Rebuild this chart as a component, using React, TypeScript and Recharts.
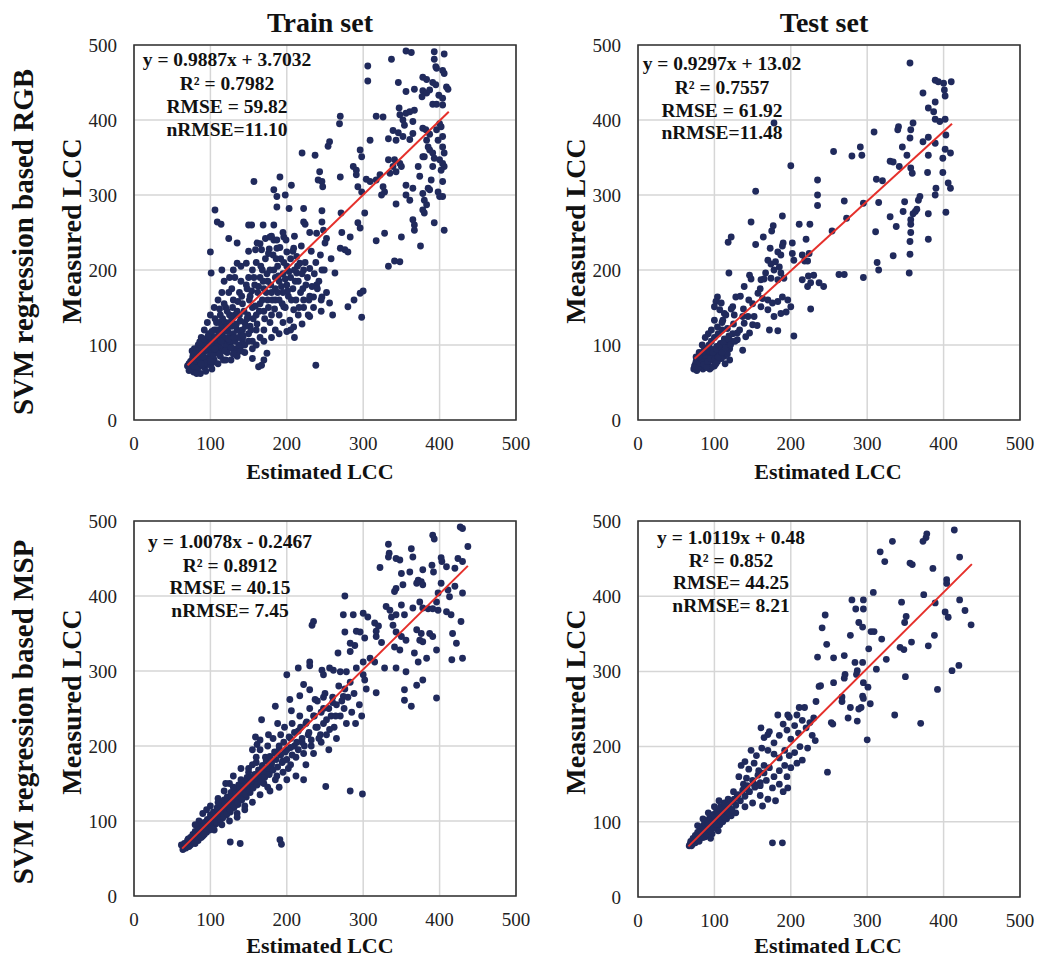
import React from 'react';
import { ScatterChart, Scatter, XAxis, YAxis, CartesianGrid, ReferenceArea } from 'recharts';

type P = [number, number];

const FONT = "'Liberation Serif', 'Times New Roman', serif";
const DOT = '#202a5c';
const FIT = '#e5302b';

const axisTicks = [0, 100, 200, 300, 400, 500];
const panelTitles = ['Train set', 'Test set'];
const rowLabels = ['SVM regression based RGB', 'SVM regression based MSP'];
const xAxisTitle = 'Estimated LCC';
const yAxisTitle = 'Measured LCC';

const statsTrainRgb = ['y = 0.9887x + 3.7032', 'R² = 0.7982', 'RMSE = 59.82', 'nRMSE=11.10'];
const statsTestRgb = ['y = 0.9297x + 13.02', 'R² = 0.7557', 'RMSE = 61.92', 'nRMSE=11.48'];
const statsTrainMsp = ['y = 1.0078x - 0.2467', 'R² = 0.8912', 'RMSE = 40.15', 'nRMSE= 7.45'];
const statsTestMsp = ['y = 1.0119x + 0.48', 'R² = 0.852', 'RMSE= 44.25', 'nRMSE= 8.21'];

const fitTrainRgb: P[] = [[70, 72.9], [412, 411]];
const fitTestRgb: P[] = [[74, 81.8], [411, 395.1]];
const fitTrainMsp: P[] = [[63, 63.2], [437, 440.2]];
const fitTestMsp: P[] = [[66, 67.3], [437, 442.7]];

const trainRgb: P[] = [
  [356,492],[363,490],[393,491],[406,488],[337,481],[306,472],[306,452],[393,481],[395,471],[396,469],[404,466],[406,462],[378,457],[383,454],[391,450],[395,447],[346,450],[356,438],[367,441],[378,439],[383,436],[387,440],[377,431],[399,433],[404,429],[409,444],[411,441],[391,421],[396,421],[404,420],[270,405],[269,395],[317,405],[326,404],[347,416],[348,407],[356,409],[361,411],[367,413],[365,398],[352,400],[354,393],[378,389],[382,387],[387,381],[396,387],[402,391],[404,378],[400,395],[339,386],[346,383],[352,378],[361,374],[333,375],[343,373],[365,382],[309,373],[296,360],[298,351],[256,371],[254,365],[220,356],[237,353],[383,373],[385,364],[387,360],[391,356],[398,373],[404,364],[406,356],[380,351],[378,351],[393,349],[400,347],[404,342],[406,338],[333,347],[341,347],[348,342],[350,338],[339,338],[343,331],[335,329],[372,338],[374,325],[391,338],[389,320],[402,333],[404,318],[287,338],[291,333],[291,327],[322,327],[317,320],[304,321],[309,318],[243,331],[246,318],[247,311],[241,320],[270,324],[157,318],[191,324],[206,313],[183,307],[187,298],[198,300],[293,311],[298,304],[326,311],[328,304],[324,300],[356,313],[365,309],[385,309],[387,307],[356,300],[361,293],[378,302],[380,293],[383,287],[380,276],[378,280],[398,304],[400,298],[404,298],[222,282],[203,282],[187,284],[246,279],[271,276],[302,276],[343,288],[106,280],[109,264],[114,261],[154,260],[150,260],[169,260],[183,260],[222,264],[224,261],[246,264],[248,253],[230,250],[239,249],[272,250],[283,244],[293,263],[296,256],[252,242],[250,236],[124,242],[135,236],[172,242],[178,244],[183,240],[187,240],[196,244],[317,239],[328,249],[350,244],[365,267],[367,260],[367,253],[393,263],[406,253],[375,232],[341,212],[348,211],[333,205],[280,224],[270,229],[276,227],[258,215],[100,224],[101,196],[115,200],[135,209],[147,209],[161,236],[159,227],[167,227],[176,222],[187,229],[200,224],[209,229],[213,218],[217,209],[222,200],[213,196],[230,202],[246,200],[233,178],[239,180],[235,164],[246,164],[256,156],[222,160],[263,196],[296,169],[300,172],[288,160],[280,151],[298,137],[238,73],[185,160],[196,151],[209,147],[204,133],[209,124],[174,89],[167,73],[163,71],[135,93],[142,107],[126,100],[100,82],[102,76],
  [120,150],[125,140],[130,160],[128,175],[135,145],[138,170],[140,185],[142,155],[145,130],[148,175],[150,190],[152,165],[155,150],[155,200],[158,180],[160,140],[160,210],[162,170],[165,190],[165,155],[168,200],[170,175],[170,145],[172,215],[175,185],[175,160],[178,200],[180,170],[180,140],[182,220],[185,190],[185,175],[188,205],[190,160],[190,185],[192,215],[195,170],[195,195],[198,150],[200,205],[200,180],[202,165],[205,190],[205,215],[208,175],[210,200],[212,160],[215,185],[218,170],[220,195],[222,150],[225,180],[228,140],[230,165],[235,150],[240,175],[245,160],[215,140],[205,120],[195,130],[190,140],[185,120],[178,130],[170,120],[165,110],[160,120],[155,105],[150,115],[145,100],[140,115],[135,120],[132,105],[128,125],[125,110],[122,95],[118,105],[115,115],[112,130],[110,95],[108,120],[105,100],[103,110],
  [70,72],[72,66],[74,78],[75,70],[77,85],[78,64],[80,75],[80,90],[82,68],[83,82],[85,95],[85,73],[87,62],[88,86],[90,100],[90,78],[92,70],[93,92],[95,105],[95,83],[97,74],[98,98],[100,88],[100,110],[102,68],[103,95],[105,80],[105,120],[107,105],[108,90],[110,75],[110,112],[112,100],[113,85],[115,125],[115,95],[117,80],[118,110],[120,100],[120,130],[122,90],[123,118],[125,105],[127,80],[128,135],[130,95],[130,115],[133,125],[135,85],[137,110],[138,140],[140,100],[142,120],[145,90],[148,135],[150,105],[152,125],[88,110],[92,120],[96,130],[100,140],[105,150],[110,160],[115,170],[118,185],[125,190],[130,200],[113,140],[106,135],[98,115],[84,100],[79,95],[76,92],
  [72,75],[74,68],[76,80],[78,72],[79,88],[81,79],[82,92],[84,70],[86,80],[86,104],[89,92],[91,84],[92,108],[94,76],[96,95],[97,112],[99,80],[101,102],[102,118],[104,86],[106,110],[108,130],[109,98],[111,120],[112,88],[114,105],[116,135],[117,118],[119,92],[121,124],[122,145],[124,108],[126,130],[127,96],[129,150],[131,110],[132,140],[134,128],[136,158],[137,100],[139,132],[141,165],[143,112],[144,145],[146,125],[147,180],[149,140],[151,160],[153,120],[154,172],[156,135],[157,190],[159,152],[161,128],[163,178],[164,145],[166,205],[168,160],[169,185],[171,135],[173,170],[174,195],[176,150],[177,228],[179,180],[181,160],[183,200],[184,148],[186,215],[188,170],[189,192],[191,230],[193,178],[194,155],[196,210],[198,188],[199,240],[201,172],[203,198],[206,160],[208,225],[211,185],[214,205],[216,150],[219,232],[221,175],[224,210],[227,190],[229,160],[232,225],[236,195],[238,210],[242,185],[244,220],[249,200],[252,170],[210,245],[195,250],[180,245],[165,235],[150,225],[140,205],[132,190],[124,170],[118,155],[112,148],[106,95],[100,78],[94,65],[88,75],[82,62],[120,80],[130,88],[140,92],[155,95],[160,100],[170,105],[180,110],[190,115],[200,118],[210,110],[220,128],[230,138],[245,145],[260,140],[170,80],[155,82]
];

const testRgb: P[] = [
  [356,476],[389,453],[393,451],[410,451],[400,449],[401,440],[402,432],[373,436],[389,424],[380,416],[387,411],[389,401],[395,398],[402,401],[178,396],[309,384],[341,391],[340,387],[360,396],[357,387],[356,376],[373,371],[380,377],[403,380],[389,369],[346,364],[352,353],[380,353],[399,349],[409,356],[402,361],[256,358],[291,364],[293,353],[280,352],[330,345],[334,344],[342,338],[200,339],[357,336],[359,329],[379,330],[399,330],[235,320],[235,300],[235,286],[312,321],[320,319],[406,316],[409,309],[390,309],[389,300],[154,305],[270,292],[295,289],[315,290],[349,291],[369,298],[367,293],[347,278],[360,275],[363,278],[365,281],[380,275],[403,277],[189,272],[148,264],[211,261],[225,261],[177,259],[175,252],[164,244],[190,236],[189,232],[202,236],[220,241],[254,252],[273,269],[122,244],[118,237],[154,234],[173,229],[183,224],[187,220],[311,251],[330,271],[338,258],[357,267],[357,261],[357,250],[356,238],[380,241],[356,221],[334,219],[313,210],[315,200],[355,196],[295,190],[263,194],[270,194],[202,222],[204,213],[215,220],[218,212],[224,222],[222,212],[223,192],[230,193],[215,187],[222,178],[226,183],[237,183],[243,178],[226,148],[204,112],
  [170,213],[174,208],[180,211],[185,204],[178,200],[167,196],[187,196],[174,189],[183,187],[191,189],[161,187],[146,193],[148,188],[119,196],[128,164],[134,165],[139,178],[157,169],[163,162],[170,160],[176,156],[183,158],[189,164],[196,160],[200,151],[194,144],[187,142],[178,138],[170,147],[161,151],[152,138],[144,138],[139,129],[150,127],[156,126],[172,120],[183,119],[124,151],[122,148],[126,140],[137,138],[104,164],[102,158],[109,156],[100,151],[107,147],[113,142],[111,133],[100,133],[104,124],[117,122],[130,116],[137,93],[120,80],[113,85],[122,103],[130,107],[141,111],[146,116],
  [73,68],[75,74],[77,66],[78,80],[80,71],[82,86],[83,75],[85,68],[86,92],[87,80],[88,72],[90,96],[90,85],[92,76],[93,100],[94,68],[95,88],[96,105],[97,80],[98,94],[100,72],[100,110],[101,86],[103,98],[104,78],[105,115],[106,90],[108,102],[109,82],[110,120],[111,95],[113,108],[114,75],[116,100],[117,88],[119,112],[120,95],[122,105],[84,100],[88,110],[92,115],[96,120],[80,90],[76,84],
  [74,72],[76,78],[79,70],[81,76],[84,80],[86,74],[89,84],[91,78],[93,92],[95,82],[98,90],[100,80],[103,94],[105,84],[107,100],[110,90],[112,104],[115,96],[118,108],[121,100],[124,115],[127,105],[96,70],[102,75],[90,70],[85,90],[80,84],[110,130],[115,140],[125,128],[133,120],[138,148],[145,160],[150,155],[160,175],[165,188]
];

const trainMsp: P[] = [
  [427,492],[430,490],[391,481],[393,476],[437,466],[333,469],[334,457],[333,452],[363,463],[365,452],[343,450],[348,448],[322,438],[350,430],[361,432],[378,435],[390,441],[392,432],[402,451],[403,446],[409,439],[420,437],[424,450],[430,446],[372,421],[376,419],[378,415],[370,417],[352,415],[341,406],[343,410],[402,417],[411,408],[413,399],[420,413],[430,404],[398,404],[396,392],[276,400],[330,386],[335,381],[350,388],[365,384],[374,392],[378,384],[385,383],[391,383],[398,381],[409,379],[415,375],[274,375],[287,375],[300,377],[306,372],[315,364],[337,372],[343,375],[354,375],[428,366],[417,350],[422,337],[233,361],[235,366],[276,352],[291,353],[296,352],[302,344],[317,346],[339,361],[343,352],[350,346],[356,341],[341,332],[348,328],[370,355],[376,350],[387,350],[391,346],[374,341],[378,339],[320,360],[317,353],[324,338],[283,337],[283,326],[289,334],[300,312],[309,317],[315,312],[267,324],[261,301],[270,299],[256,304],[230,312],[230,307],[215,304],[200,295],[246,301],[248,295],[328,304],[343,304],[356,299],[367,324],[372,312],[383,317],[396,328],[416,315],[430,317],[378,288],[370,281],[354,275],[354,261],[363,253],[396,264],[291,304],[300,295],[302,288],[304,276],[317,271],[276,276],[283,285],[274,266],[278,299],[222,282],[217,267],[230,275],[237,262],[248,265],[185,253],[204,262],[206,247],[167,235],[159,212],[161,202],[222,155],[251,146],[283,140],[299,136],[191,75],[193,69],[126,72],[139,70],
  [150,165],[155,175],[158,150],[160,185],[163,160],[165,195],[168,170],[170,150],[172,185],[175,200],[177,165],[180,175],[182,210],[185,190],[187,160],[190,200],[192,215],[195,180],[197,225],[200,195],[202,170],[205,210],[207,230],[210,200],[212,185],[215,220],[217,240],[220,205],[222,190],[225,230],[228,215],[230,250],[232,200],[235,240],[238,225],[240,260],[242,210],[245,245],[248,230],[250,270],[252,215],[255,250],[258,240],[260,265],[262,225],[265,255],[268,280],[270,240],[272,260],[275,250],[278,230],[280,265],[285,245],[288,270],[290,230],[295,255],[298,240],[235,190],[245,205],[255,195],[265,210],[225,175],[212,160],[200,155],[190,145],[178,140],[188,230],[176,215],[165,208],[155,195],
  [62,68],[64,62],[66,70],[68,64],[70,74],[72,66],[74,78],[75,70],[77,82],[78,72],[80,86],[80,76],[82,80],[84,90],[85,78],[86,84],[88,95],[89,86],[90,80],[92,98],[93,90],[95,85],[96,102],[97,94],[99,88],[100,108],[101,98],[103,92],[104,112],[106,102],[107,96],[109,118],[110,106],[112,100],[113,122],[115,110],[116,104],[118,128],[119,115],[121,108],[122,132],[124,120],[126,112],[127,138],[129,125],[131,118],[132,142],[134,130],[136,122],[137,148],[139,135],[141,128],[143,152],[145,140],[147,132],[148,158],[150,145],[152,138],[110,130],[100,120],[95,115],[118,140],[125,150],[105,88],[115,95],[125,100],[135,110],[145,120],[130,160],[140,170],[85,100],[90,110],[80,95],
  [66,64],[68,70],[70,66],[71,76],[73,72],[74,68],[76,74],[77,80],[79,76],[80,70],[81,84],[83,78],[84,74],[85,88],[87,82],[88,78],[90,92],[91,86],[92,82],[94,96],[95,90],[97,100],[98,92],[100,96],[101,104],[102,90],[104,100],[105,108],[107,104],[108,98],[110,114],[111,108],[113,102],[114,118],[116,112],[117,106],[119,122],[120,116],[122,110],[123,126],[125,120],[126,114],[128,132],[130,128],[131,120],[133,136],[135,130],[136,124],[138,142],[140,136],[141,130],[143,148],[144,142],[146,136],[148,152],[150,148],[151,140],[153,158],[155,150],[156,144],[158,162],[160,156],[161,148],[163,168],[165,160],[166,152],[168,174],[170,165],[171,158],[173,180],[175,170],[177,162],[178,186],[180,178],[182,168],[184,192],[186,182],[188,172],[190,196],[192,188],[194,178],[196,205],[198,192],[200,182],[203,212],[205,198],[207,188],[210,218],[213,205],[215,195],[218,225],[220,210],[223,200],[226,232],[229,218],[232,208],[236,240],[240,225],[244,215],[248,250],[252,235],[256,222],[260,258],[264,240],[120,150],[110,125],[130,145],[140,155],[150,170],[160,178],[135,105],[145,115],[155,125],[165,135],[175,145],[185,155],[195,165],[205,175]
];

const testMsp: P[] = [
  [414,488],[378,483],[377,478],[373,473],[333,473],[317,459],[323,446],[356,444],[359,442],[386,437],[421,452],[404,422],[404,417],[308,405],[280,395],[295,395],[285,383],[295,383],[345,392],[374,402],[389,391],[421,395],[428,381],[436,362],[402,379],[406,372],[351,373],[349,365],[245,375],[241,358],[289,365],[294,359],[305,353],[309,353],[278,348],[319,343],[247,336],[358,339],[343,332],[348,329],[380,334],[388,348],[302,330],[235,319],[256,318],[270,321],[284,312],[294,312],[287,301],[286,296],[325,316],[312,303],[411,301],[420,308],[271,296],[270,291],[239,281],[237,280],[256,285],[295,285],[301,279],[350,293],[392,276],[233,260],[211,252],[218,252],[267,266],[267,260],[278,252],[294,267],[295,264],[292,252],[304,257],[183,242],[196,242],[198,239],[208,242],[230,238],[253,232],[255,230],[275,238],[287,234],[289,250],[336,242],[370,231],[161,225],[170,216],[300,209],[248,166],[176,72],[189,72],[163,121],[180,128],[196,145],
  [165,212],[172,220],[178,205],[185,215],[190,230],[195,222],[200,210],[205,228],[210,218],[215,235],[220,225],[225,232],[228,215],[232,208],[222,198],[212,200],[205,192],[198,188],[192,195],[185,185],[178,190],[170,195],[162,198],[155,188],[148,195],[140,180],[135,175],[145,170],[152,178],[158,168],[165,175],[172,172],[178,160],[185,168],[192,175],[200,172],[208,178],[215,182],[185,150],[176,145],[168,155],[160,148],[152,150],[145,140],[138,150],[130,135],[125,140],[120,128],[132,160],[142,158],[195,160],[190,140],[165,165],[170,130],[160,135],[150,125],[140,120],[128,112],[118,118],[112,105],
  [67,68],[69,74],[71,70],[72,78],[74,72],[75,82],[77,76],[78,86],[80,78],[81,90],[83,82],[84,94],[86,86],[87,98],[88,80],[90,92],[91,102],[93,88],[94,106],[96,96],[97,84],[99,110],[100,100],[102,92],[103,115],[105,104],[107,96],[108,120],[110,110],[111,100],[113,125],[115,112],[116,104],[118,130],[120,118],[122,108],[92,112],[85,104],[100,120],[106,128],[78,95],[95,78],[105,88],
  [68,70],[70,68],[73,75],[75,72],[78,80],[80,74],[83,86],[85,79],[88,90],[90,84],[92,96],[94,88],[97,100],[99,92],[101,106],[103,97],[106,110],[108,102],[111,116],[113,106],[116,120],[118,112],[121,126],[123,116],[126,130],[128,122],[131,136],[134,128],[137,142],[140,134],[143,148],[146,140],[150,155],[153,146],[157,162],[160,152]
];

interface PanelDef {
  points: P[];
  fit: P[];
  stats: string[];
  plotLeft: number;
  plotTop: number;
  plotW: number;
  plotH: number;
  statsX: number;
  statsY: number[];
}

const panels: PanelDef[] = [
  { points: trainRgb, fit: fitTrainRgb, stats: statsTrainRgb, plotLeft: 134, plotTop: 45, plotW: 382, plotH: 375, statsX: 227, statsY: [66, 90, 113, 136] },
  { points: testRgb, fit: fitTestRgb, stats: statsTestRgb, plotLeft: 638, plotTop: 45, plotW: 382, plotH: 375, statsX: 722, statsY: [70, 94, 117, 139] },
  { points: trainMsp, fit: fitTrainMsp, stats: statsTrainMsp, plotLeft: 134, plotTop: 521, plotW: 382, plotH: 375, statsX: 230, statsY: [548, 572, 594, 617] },
  { points: testMsp, fit: fitTestMsp, stats: statsTestMsp, plotLeft: 638, plotTop: 521, plotW: 382, plotH: 376, statsX: 731, statsY: [544, 567, 589, 612] },
];

const YW = 80;
const MT = 15;
const MR = 25;
const XH = 45;

const Dot = (props: any) => <circle cx={props.cx} cy={props.cy} r={3.4} fill={DOT} />;
const NoDot = () => <g />;

function Panel({ def }: { def: PanelDef }) {
  const data = def.points.map(([x, y]) => ({ x, y }));
  const seg = def.fit.map(([x, y]) => ({ x, y }));
  return (
    <div style={{ position: 'absolute', left: def.plotLeft - YW, top: def.plotTop - MT }}>
      <ScatterChart
        width={def.plotW + YW + MR}
        height={def.plotH + MT + XH}
        margin={{ top: MT, right: MR, bottom: 0, left: 0 }}
      >
        <CartesianGrid stroke="#d6d6d6" strokeWidth={1.5} />
        <XAxis
          type="number"
          dataKey="x"
          domain={[0, 500]}
          ticks={axisTicks}
          interval={0}
          height={XH}
          axisLine={false}
          tickLine={false}
          tickSize={6}
          tickMargin={11}
          tick={{ fontSize: 19, fill: '#222', fontFamily: FONT }}
        />
        <YAxis
          type="number"
          dataKey="y"
          domain={[0, 500]}
          ticks={axisTicks}
          interval={0}
          width={YW}
          axisLine={false}
          tickLine={false}
          tickSize={6}
          tickMargin={11}
          tick={{ fontSize: 19, fill: '#222', fontFamily: FONT }}
        />
        <ReferenceArea x1={0} x2={500} y1={0} y2={500} fill="none" fillOpacity={0} stroke="#333" strokeWidth={1.6} ifOverflow="visible" />
        <Scatter data={data} shape={Dot} isAnimationActive={false} />
        <Scatter data={seg} shape={NoDot} line={{ stroke: FIT, strokeWidth: 2 }} isAnimationActive={false} />
      </ScatterChart>
    </div>
  );
}

export default function App() {
  return (
    <div style={{ position: 'absolute', left: 0, top: 0, width: 1053, height: 960, background: '#fff', fontFamily: FONT }}>
      {panels.map((p, i) => (
        <Panel key={i} def={p} />
      ))}
      <svg width={1053} height={960} style={{ position: 'absolute', left: 0, top: 0, pointerEvents: 'none' }} fontFamily={FONT}>
        <text x={320} y={32} textAnchor="middle" fontSize={28} fontWeight="bold" fill="#111">{panelTitles[0]}</text>
        <text x={824} y={32} textAnchor="middle" fontSize={28} fontWeight="bold" fill="#111">{panelTitles[1]}</text>
        {[0, 1].map((r) => (
          <text key={'row' + r} transform={`translate(33, ${r === 0 ? 242 : 712}) rotate(-90)`} textAnchor="middle" fontSize={29} fontWeight="bold" fill="#111">{rowLabels[r]}</text>
        ))}
        {panels.map((p, i) => (
          <g key={'lab' + i}>
            <text x={i % 2 === 0 ? 320 : 828} y={i < 2 ? 479 : 953} textAnchor="middle" fontSize={22} fontWeight="bold" fill="#111">{xAxisTitle}</text>
            <text transform={`translate(${p.plotLeft - 53}, ${i < 2 ? 231 : 702}) rotate(-90)`} textAnchor="middle" fontSize={28} fontWeight="bold" fill="#111">{yAxisTitle}</text>
            {p.stats.map((s, k) => (
              <text key={k} x={p.statsX} y={p.statsY[k]} textAnchor="middle" fontSize={19.5} fontWeight="bold" fill="#111">{s}</text>
            ))}
          </g>
        ))}
      </svg>
    </div>
  );
}
